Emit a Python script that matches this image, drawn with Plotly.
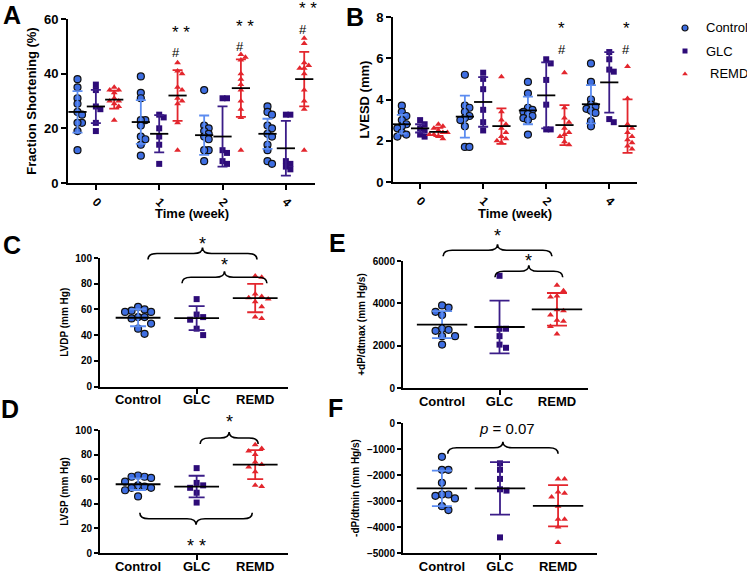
import numpy as np
import plotly.graph_objects as go

W, H = 747, 578
FONT = 'Liberation Sans, Arial, sans-serif'

GROUPS = ['Control', 'GLC', 'REMD']
WEEKS = ['0', '1', '2', '4']

# A - fraction shortening (%), one list per week
fs_control = [[38, 35, 31, 29, 26, 25, 22, 22, 19, 12],
              [39, 33, 31, 23, 23, 21, 17, 16, 14, 10],
              [34, 21, 20, 19, 18, 17, 16, 12, 12, 8],
              [28, 26, 25, 21, 20, 18, 17, 14, 12, 8, 7]]
fs_glc = [[36, 34, 28, 27, 22, 19],
          [25, 24, 20, 17, 14, 7],
          [31, 31, 12, 11, 8, 7],
          [25, 25, 8, 7, 6, 5]]
fs_remd = [[35, 34, 34, 33, 31, 30, 30, 29, 28, 23],
           [44, 41, 40, 35, 34, 31, 30, 29, 22, 12],
           [47, 46, 45, 40, 38, 36, 34, 30, 27, 24, 12],
           [53, 51, 44, 43, 42, 42, 40, 34, 30, 27, 12]]
fs_mean_control, fs_sd_control = [26, 22.3, 17.5, 18], [7.6, 8, 7.2, 5.5]
fs_mean_glc, fs_sd_glc = [28, 18, 17, 12.7], [6.1, 6.8, 11, 10]
fs_mean_remd, fs_sd_remd = [30.5, 32, 34.7, 38], [3.3, 9.3, 10.5, 10]

# B - LVESD (mm)
lv_control = [[3.7, 3.4, 3.2, 3.0, 2.8, 2.7, 2.6, 2.4, 2.3, 2.2],
              [5.2, 3.7, 3.6, 3.4, 3.2, 3.1, 3.0, 2.7, 1.7, 1.7],
              [4.85, 4.3, 3.6, 3.5, 3.4, 3.3, 3.2, 3.1, 3.0, 2.3],
              [5.75, 4.85, 4.0, 3.75, 3.65, 3.55, 3.45, 3.35, 2.95, 2.7]]
lv_glc = [[3.0, 2.8, 2.6, 2.5, 2.3, 2.2],
          [5.3, 5.0, 4.5, 3.5, 2.9, 2.5],
          [5.95, 5.75, 4.95, 3.75, 2.55, 2.55],
          [6.3, 5.95, 5.45, 5.35, 3.05, 2.9]]
lv_remd = [[2.8, 2.7, 2.6, 2.5, 2.4, 2.4, 2.3, 2.3, 2.2, 2.1],
           [5.1, 3.4, 3.0, 2.8, 2.6, 2.4, 2.2, 2.1, 2.0, 1.9],
           [5.3, 3.6, 3.1, 2.9, 2.6, 2.4, 2.3, 2.2, 1.95, 1.8],
           [5.6, 4.05, 2.8, 2.6, 2.4, 2.2, 2.05, 1.9, 1.75, 1.6]]
lv_mean_control, lv_sd_control = [2.8, 3.17, 3.47, 3.77], [0.45, 1.02, 0.67, 0.93]
lv_mean_glc, lv_sd_glc = [2.6, 3.88, 4.2, 4.83], [0.2, 1.2, 1.6, 1.47]
lv_mean_remd, lv_sd_remd = [2.43, 2.71, 2.76, 2.71], [0.2, 0.86, 0.97, 1.3]

# C - LVDP (mm Hg)
lvdp_control = [62, 60, 59, 58, 58, 54, 54, 53, 49, 45, 41]
lvdp_glc = [68, 56, 54, 52, 45, 40]
lvdp_remd = [86, 85, 72, 70, 69, 68, 66, 62, 54, 53]
lvdp_mean, lvdp_sd = [53.5, 53.2, 68.8], [6.6, 9.4, 11]

# D - LVSP (mm Hg)
lvsp_control = [63, 62, 62, 61, 58, 55, 54, 53, 53, 51, 46]
lvsp_glc = [69, 57, 55, 53, 49, 41]
lvsp_remd = [88, 85, 83, 80, 74, 72, 70, 66, 55, 54]
lvsp_mean, lvsp_sd = [55.9, 54, 71.9], [4.7, 8.8, 11.8]

# E - +dP/dtmax (mm Hg/s)
dpmax_control = [3900, 3800, 3600, 3450, 2800, 2750, 2700, 2450, 2450, 2050]
dpmax_glc = [5300, 2800, 2800, 2450, 2050, 1900]
dpmax_remd = [4850, 4600, 4350, 4300, 3700, 3650, 3450, 3200, 3150, 2900, 2550]
dpmax_mean, dpmax_sd = [2993, 2882, 3717], [638, 1244, 772]

# F - -dP/dtmin (mm Hg/s)
dpmin_control = [-1300, -1800, -1800, -2300, -2750, -2750, -2800, -2900, -3200, -3350]
dpmin_glc = [-1550, -1800, -2150, -2550, -2600, -4400]
dpmin_remd = [-2150, -2150, -2650, -2700, -2850, -3200, -3700, -3700, -4000, -4600]
dpmin_mean, dpmin_sd = [-2513, -2513, -3184], [683, 1012, 793]

STYLE = {
    'Control': dict(symbol='circle', size=7, color='#3E6EE2', lw=1.2, err='#5C8CF0'),
    'GLC': dict(symbol='square', size=6, color='#2D0B78', lw=0, err='#3B1D88'),
    'REMD': dict(symbol='triangle-up', size=6, color='#E3262D', lw=0, err='#E3262D'),
}

# panel boxes in pixels (left, top, right, bottom) and axis ranges
panels = {
    'A': dict(ax='', box=(68, 19, 315, 183), xr=(-0.44, 3.46), yr=(0, 60), swarm=4.5),
    'B': dict(ax='2', box=(393, 17, 637, 182), xr=(-0.43, 3.44), yr=(0, 8), swarm=4.5),
    'C': dict(ax='3', box=(100, 258, 288, 386.5), xr=(-0.65, 2.56), yr=(0, 100), swarm=6.5),
    'D': dict(ax='4', box=(100, 430, 288, 553), xr=(-0.65, 2.56), yr=(0, 100), swarm=6.5),
    'E': dict(ax='5', box=(403, 261, 588, 388), xr=(-0.68, 2.54), yr=(0, 6000), swarm=6.5),
    'F': dict(ax='6', box=(403, 423, 597, 553), xr=(-0.67, 2.67), yr=(-5000, 0), swarm=6.5),
}
for p in panels.values():
    l, t, r, b = p['box']
    p['sx'] = (r - l) / (p['xr'][1] - p['xr'][0])
    p['sy'] = (b - t) / (p['yr'][1] - p['yr'][0])


def to_paper_y(p, y):
    # data y -> paper y, so marks above the axis top are not hidden
    l, t, r, b = p['box']
    py = b - (y - p['yr'][0]) * p['sy']
    return 1 - py / H


def swarm(vals, center, p):
    # spread points with similar values side by side
    step = p['swarm'] / p['sx']
    tol = p['swarm'] / p['sy']
    placed = []
    xs = [center] * len(vals)
    for i in np.argsort(vals)[::-1]:
        v = vals[i]
        taken = {k for pv, k in placed if abs(pv - v) < tol}
        for k in [0, 1, -1, 2, -2, 3, -3, 4, -4]:
            if k not in taken:
                break
        placed.append((v, k))
        xs[i] = center + k * step
    return xs


fig = go.Figure()


def add_group(p, g, centers, point_lists, means, sds, mean_px, cap_px):
    st = STYLE[g]
    xs, ys = [], []
    for c, vals in zip(centers, point_lists):
        xs += swarm(vals, c, p)
        ys += list(vals)
    fig.add_trace(go.Scatter(
        x=xs, y=ys, mode='markers', showlegend=False, cliponaxis=False,
        xaxis='x' + p['ax'], yaxis='y' + p['ax'],
        marker=dict(symbol=st['symbol'], size=st['size'], color=st['color'],
                    line=dict(color='#101010', width=st['lw'])),
    ))
    # mean line + SD error bar
    fig.add_trace(go.Scatter(
        x=centers, y=means, mode='markers', showlegend=False,
        cliponaxis=False, xaxis='x' + p['ax'], yaxis='y' + p['ax'],
        marker=dict(symbol='line-ew', size=mean_px, color='black',
                    line=dict(color='black', width=1.8)),
        error_y=dict(type='data', array=sds, color=st['err'], thickness=1.8, width=cap_px),
    ))


off = {'Control': -0.29, 'GLC': 0.0, 'REMD': 0.29}
wk = np.arange(len(WEEKS))
for g, pts, m, s in [('Control', fs_control, fs_mean_control, fs_sd_control),
                     ('GLC', fs_glc, fs_mean_glc, fs_sd_glc),
                     ('REMD', fs_remd, fs_mean_remd, fs_sd_remd)]:
    add_group(panels['A'], g, list(wk + off[g]), pts, m, s, 13, 5)
for g, pts, m, s in [('Control', lv_control, lv_mean_control, lv_sd_control),
                     ('GLC', lv_glc, lv_mean_glc, lv_sd_glc),
                     ('REMD', lv_remd, lv_mean_remd, lv_sd_remd)]:
    add_group(panels['B'], g, list(wk + off[g]), pts, m, s, 13, 5)

for key, lists, m, s, mpx, cap in [
        ('C', [lvdp_control, lvdp_glc, lvdp_remd], lvdp_mean, lvdp_sd, 32, 8),
        ('D', [lvsp_control, lvsp_glc, lvsp_remd], lvsp_mean, lvsp_sd, 32, 8),
        ('E', [dpmax_control, dpmax_glc, dpmax_remd], dpmax_mean, dpmax_sd, 36, 10),
        ('F', [dpmin_control, dpmin_glc, dpmin_remd], dpmin_mean, dpmin_sd, 36, 10)]:
    for i, g in enumerate(GROUPS):
        add_group(panels[key], g, [i], [lists[i]], [m[i]], [s[i]], mpx, cap)

# legend drawn by hand on a hidden pixel-scaled axis
leg_y = [28, 51, 74]
for g, y in zip(GROUPS, leg_y):
    st = STYLE[g]
    fig.add_trace(go.Scatter(
        x=[685], y=[y], mode='markers', showlegend=False, xaxis='x7', yaxis='y7',
        marker=dict(symbol=st['symbol'], size=st['size'] - 1, color=st['color'],
                    line=dict(color='#101010', width=st['lw'])),
    ))

# axes
axis_line = dict(showline=True, linecolor='black', linewidth=2, showgrid=False,
                 zeroline=False, ticks='outside', ticklen=5, tickwidth=2, tickcolor='black')
bold = dict(family=FONT, color='black', weight='bold')

annotations = []
shapes = []


def note(text, x, y, font, xref='paper', xanchor='center', yshift=0):
    annotations.append(dict(text=text, x=x, y=y, xref=xref, yref='paper',
                            xanchor=xanchor, yanchor='middle', yshift=yshift,
                            showarrow=False, font=font))


layout_axes = {}
for key, p in panels.items():
    l, t, r, b = p['box']
    xd = [l / W, r / W]
    yd = [1 - b / H, 1 - t / H]
    xa = dict(axis_line, domain=xd, range=list(p['xr']), anchor='y' + p['ax'])
    ya = dict(axis_line, domain=yd, range=list(p['yr']), anchor='x' + p['ax'])
    if key in 'AB':
        xa.update(tickvals=list(wk), ticktext=WEEKS, tickangle=45,
                  tickfont=dict(bold, size=12))
        ya.update(tickfont=dict(bold, size=13), dtick=20 if key == 'A' else 2,
                  title=dict(text='Fraction Shortening (%)' if key == 'A' else 'LVESD (mm)',
                             font=dict(bold, size=13), standoff=4))
        note('Time (week)', (l + r) / 2 / W, 1 - 213 / H, dict(bold, size=13))
    else:
        xa.update(tickvals=[0, 1, 2], ticktext=GROUPS, ticks='',
                  tickfont=dict(bold, size=13),
                  minor=dict(tickmode='array', tickvals=[1], ticks='outside',
                             ticklen=5, tickwidth=2, tickcolor='black'))
        ytitle = {'C': 'LVDP (mm Hg)', 'D': 'LVSP (mm Hg)',
                  'E': '+dP/dtmax (mm Hg/s)', 'F': '-dP/dtmin (mm Hg/s)'}[key]
        ya.update(tickfont=dict(bold, size=10), ticklen=4,
                  dtick=20 if key in 'CD' else 2000 if key == 'E' else 1000,
                  title=dict(text=ytitle, font=dict(bold, size=10), standoff=5))
    layout_axes['xaxis' + p['ax']] = xa
    layout_axes['yaxis' + p['ax']] = ya

layout_axes['xaxis7'] = dict(domain=[0, 1], range=[0, W], visible=False, fixedrange=True)
layout_axes['yaxis7'] = dict(domain=[0, 1], range=[H, 0], visible=False, fixedrange=True)

for g, y in zip(GROUPS, leg_y):
    note(g, (704 if g != 'REMD' else 708) / W, 1 - y / H,
         dict(family=FONT, size=13, color='black'), xanchor='left')

# panel letters
for letter, (px, py) in {'A': (12, 15), 'B': (355, 17), 'C': (12, 245),
                         'D': (10, 409), 'E': (337, 243), 'F': (335, 408)}.items():
    note(letter, px / W, 1 - py / H, dict(bold, size=25))


def mark(key, text, x, y, size):
    p = panels[key]
    note(text, x, to_paper_y(p, y), dict(family=FONT, color='black', size=size),
         xref='x' + p['ax'], yshift=-3 if '*' in text else 0)


# significance marks in A and B
for x, ys, yh in [(1.3, 56, 47.6), (2.3, 58.5, 50), (3.3, 65, 56.3)]:
    mark('A', '* *', x + 0.05, ys, 17)
    mark('A', '#', x - 0.03, yh, 13)
for x in [2.25, 3.27]:
    mark('B', '*', x, 7.6, 17)
    mark('B', '#', x, 6.4, 13)


def brace(key, x0, x1, y, up=True, h=6, w=9):
    p = panels[key]
    dx = w / p['sx']
    yb = to_paper_y(p, y)
    dy = (h if up else -h) / H
    xm = (x0 + x1) / 2
    path = (f'M {x0},{yb - dy} Q {x0},{yb} {x0 + dx},{yb} L {xm - dx},{yb} '
            f'Q {xm},{yb} {xm},{yb + dy} Q {xm},{yb} {xm + dx},{yb} L {x1 - dx},{yb} '
            f'Q {x1},{yb} {x1},{yb - dy}')
    shapes.append(dict(type='path', path=path, xref='x' + p['ax'], yref='paper',
                       line=dict(color='black', width=1.6)))


brace('C', 0.17, 2.03, 103.5)
mark('C', '*', 1.1, 113, 18)
brace('C', 0.75, 2.2, 85)
mark('C', '*', 1.47, 96.5, 18)
brace('D', 1.06, 2.05, 93.5)
mark('D', '*', 1.56, 109, 18)
brace('D', 0.03, 1.95, 27.8, up=False)
mark('D', '* *', 0.99, 8.4, 18)
brace('E', 0.02, 1.91, 6505)
mark('E', '*', 0.96, 7310, 18)
brace('E', 0.92, 2.1, 5513)
mark('E', '*', 1.51, 6130, 18)
brace('F', 0.1, 2.0, -954)
mark('F', '<i>p</i> = 0.07', 1.12, -230, 15)

fig.update_layout(
    width=W, height=H,
    margin=dict(l=0, r=0, t=0, b=0, pad=0, autoexpand=False),
    paper_bgcolor='white', plot_bgcolor='rgba(0,0,0,0)',
    font=dict(family=FONT, color='black'),
    showlegend=False,
    annotations=annotations,
    shapes=shapes,
    **layout_axes,
)

# the page body has a default 8px margin; drop it so the figure fills the window
fig.write_html('out.html', config={'displayModeBar': False},
               post_script="document.body.style.margin = '0';")
